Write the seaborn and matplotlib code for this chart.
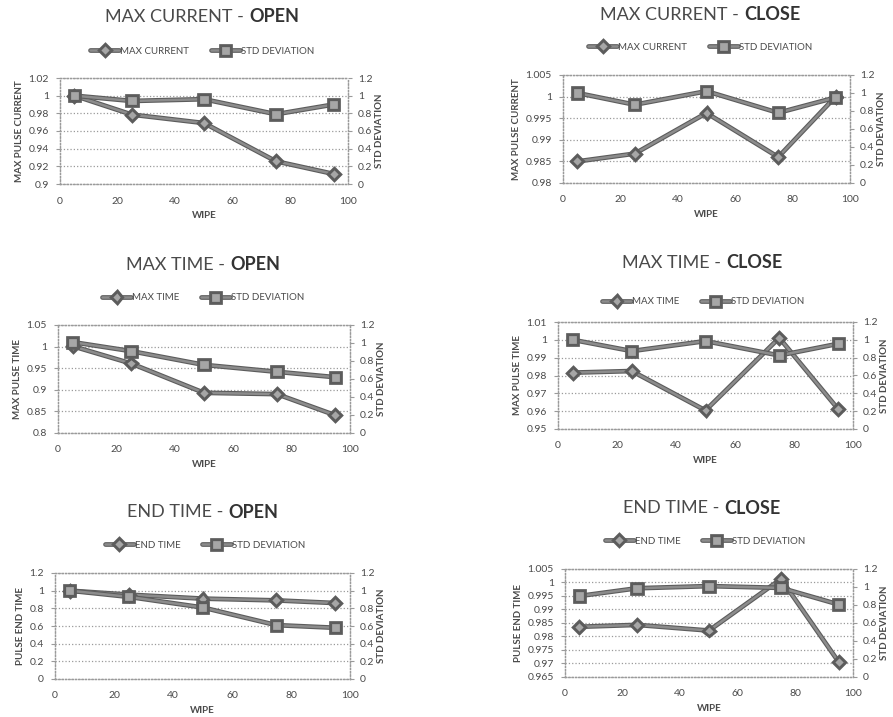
import matplotlib
matplotlib.use("Agg")
import matplotlib.pyplot as plt
import matplotlib.patheffects as pe
import seaborn as sns
import numpy as np

# wipe positions shared by all panels
WIPE = [5, 25, 50, 75, 95]

MAX_CURRENT_OPEN = [1.0, 0.9785, 0.969, 0.9257, 0.9114]
STD_CURRENT_OPEN = [1.0, 0.94, 0.96, 0.79, 0.90]

MAX_CURRENT_CLOSE = [0.985, 0.9868, 0.9962, 0.986, 1.0]
STD_CURRENT_CLOSE = [1.0, 0.87, 1.02, 0.78, 0.95]

MAX_TIME_OPEN = [1.001, 0.961, 0.893, 0.890, 0.841]
STD_TIME_OPEN = [1.01, 0.91, 0.757, 0.68, 0.62]

MAX_TIME_CLOSE = [0.9816, 0.9825, 0.9604, 1.0011, 0.9611]
STD_TIME_CLOSE = [1.0, 0.874, 0.986, 0.825, 0.956]

END_TIME_OPEN = [1.0, 0.955, 0.91, 0.89, 0.86]
STD_END_OPEN = [1.0, 0.93, 0.81, 0.61, 0.58]

END_TIME_CLOSE = [0.9836, 0.9843, 0.9822, 1.0013, 0.9706]
STD_END_CLOSE = [0.9, 0.986, 1.01, 0.99, 0.806]

TITLES = [("MAX CURRENT -", "OPEN"), ("MAX CURRENT -", "CLOSE"),
          ("MAX TIME -", "OPEN"), ("MAX TIME -", "CLOSE"),
          ("END TIME -", "OPEN"), ("END TIME -", "CLOSE")]
SERIES_NAMES = ["MAX CURRENT", "MAX CURRENT", "MAX TIME", "MAX TIME",
                "END TIME", "END TIME"]
Y_LABELS = ["MAX PULSE CURRENT", "MAX PULSE CURRENT", "MAX PULSE TIME",
            "MAX PULSE TIME", "PULSE END TIME", "PULSE END TIME"]
Y_LIMITS = [(0.9, 1.02, 0.02), (0.98, 1.005, 0.005), (0.8, 1.05, 0.05),
            (0.95, 1.01, 0.01), (0.0, 1.2, 0.2), (0.965, 1.005, 0.005)]
MAIN = [MAX_CURRENT_OPEN, MAX_CURRENT_CLOSE, MAX_TIME_OPEN, MAX_TIME_CLOSE,
        END_TIME_OPEN, END_TIME_CLOSE]
STD = [STD_CURRENT_OPEN, STD_CURRENT_CLOSE, STD_TIME_OPEN, STD_TIME_CLOSE,
       STD_END_OPEN, STD_END_CLOSE]

sns.set_style("white")
plt.rcParams["font.family"] = ["Lato", "DejaVu Sans"]

W, H = 893, 717
fig = plt.figure(figsize=(W / 100, H / 100), dpi=100)

# plot areas in pixels: left, top, right, bottom
BOXES = [(60, 78, 348, 184), (563, 75, 850, 183),
         (58, 325, 350, 433), (558, 322, 853, 429),
         (55, 573, 350, 679), (565, 569, 853, 677)]
TITLE_POS = [(202, 17), (700, 15), (203, 265), (702, 263), (203, 512), (702, 508)]
LEGEND_POS = [(202, 51), (700, 47), (203, 298), (703, 302), (205, 545), (705, 541)]

LINE = "#8c8c8c"
EDGE = "#5c5c5c"
MFACE = "#a6a6a6"
TXT = "#4a4a4a"
effects = [pe.Stroke(linewidth=3.4, foreground=EDGE), pe.Normal()]


def fmt(v):
    return f"{round(v, 4):g}"


title_parts = []
for i in range(6):
    l, t, r, b = BOXES[i]
    ax = fig.add_axes([l / W, 1 - b / H, (r - l) / W, (b - t) / H])
    ax2 = ax.twinx()

    sns.lineplot(x=WIPE, y=MAIN[i], ax=ax, color=LINE, lw=1.8, marker="D",
                 markersize=5, markerfacecolor=MFACE, markeredgecolor=EDGE,
                 markeredgewidth=0.9, label=SERIES_NAMES[i], legend=False,
                 path_effects=effects, clip_on=False, zorder=3)
    sns.lineplot(x=WIPE, y=STD[i], ax=ax2, color=LINE, lw=1.8, marker="s",
                 markersize=6.5, markerfacecolor=MFACE, markeredgecolor=EDGE,
                 markeredgewidth=0.9, label="STD DEVIATION", legend=False,
                 path_effects=effects, clip_on=False, zorder=3)

    lo, hi, step = Y_LIMITS[i]
    yt = np.arange(lo, hi + step / 2, step)
    ax.set_ylim(lo, hi)
    ax.set_yticks(yt)
    ax.set_yticklabels([fmt(v) for v in yt])
    ax.set_xlim(0, 100)
    ax.set_xticks(np.arange(0, 101, 20))
    ax2.set_ylim(0, 1.2)
    ax2.set_yticks(np.arange(0, 1.21, 0.2))
    ax2.set_yticklabels([fmt(v) for v in np.arange(0, 1.21, 0.2)])

    ax.grid(axis="y", color="#9a9a9a", linestyle=":", linewidth=0.9)
    ax.grid(axis="x", visible=False)
    for a in (ax, ax2):
        for s in a.spines.values():
            s.set_linestyle(":")
            s.set_color("#9a9a9a")
            s.set_linewidth(0.9)
    ax.tick_params(axis="both", labelsize=7.5, labelcolor=TXT, length=3,
                   color="#9a9a9a", direction="out", pad=5)
    ax2.tick_params(axis="y", labelsize=7.5, labelcolor=TXT, length=3,
                    color="#9a9a9a", direction="out", pad=4)
    ax.tick_params(axis="x", pad=6)

    ax.set_xlabel("WIPE", fontsize=7, fontweight="bold", color=TXT, labelpad=4)
    ax.set_ylabel(Y_LABELS[i], fontsize=7, fontweight="bold", color=TXT, labelpad=3)
    ax2.set_ylabel("STD DEVIATION", fontsize=7, fontweight="bold", color=TXT,
                   rotation=90, labelpad=2)

    handles = ax.get_lines()[:1] + ax2.get_lines()[:1]
    lx, ly = LEGEND_POS[i]
    fig.legend(handles, [h.get_label() for h in handles], loc="center",
               bbox_to_anchor=(lx / W, 1 - ly / H), ncol=2, frameon=False,
               fontsize=7, labelcolor=TXT, handlelength=3.0, handletextpad=0.1,
               columnspacing=2.2)

    reg, bold = TITLES[i]
    t1 = fig.text(0, 0, reg, fontsize=13, color=TXT, va="center")
    t2 = fig.text(0, 0, bold, fontsize=13, color="#333333", fontweight="bold",
                  va="center")
    title_parts.append((t1, t2, TITLE_POS[i]))

# center the two-part titles
fig.canvas.draw()
rend = fig.canvas.get_renderer()
gap = 5
for t1, t2, (cx, cy) in title_parts:
    w1 = t1.get_window_extent(rend).width
    w2 = t2.get_window_extent(rend).width
    x0 = cx - (w1 + gap + w2) / 2
    t1.set_position((x0 / W, 1 - cy / H))
    t2.set_position(((x0 + w1 + gap) / W, 1 - cy / H))

fig.savefig("out.png", dpi=100)
